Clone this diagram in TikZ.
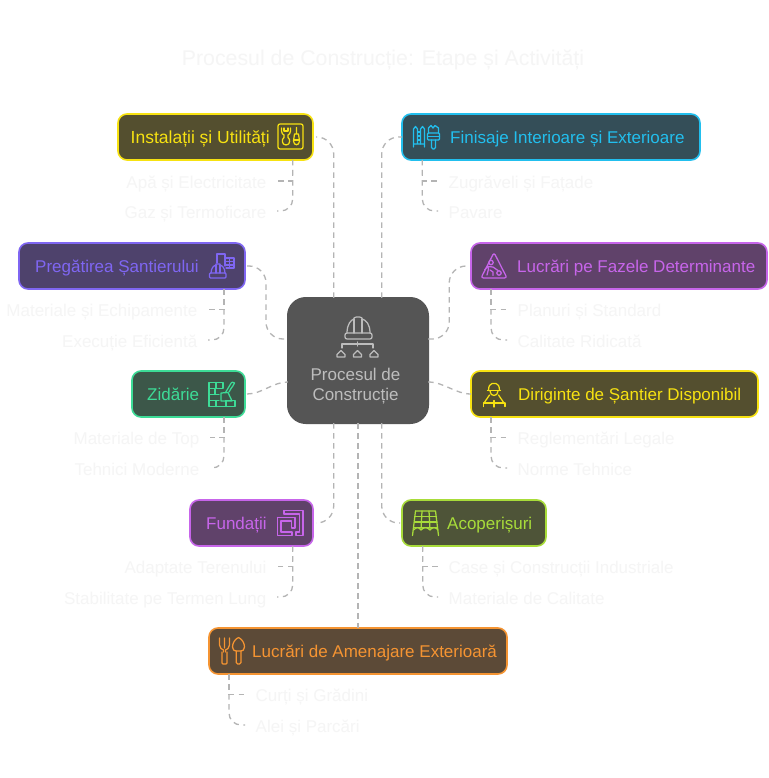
\documentclass[tikz,border=0pt]{standalone}
\usepackage{fontspec}
\setmainfont{Liberation Sans}
\definecolor{cyel}{HTML}{F7E211}
\definecolor{fyel}{HTML}{544F2F}
\definecolor{ccya}{HTML}{22BFEE}
\definecolor{fcya}{HTML}{344E58}
\definecolor{cvio}{HTML}{7F66F2}
\definecolor{fvio}{HTML}{4E426C}
\definecolor{cmag}{HTML}{C765EA}
\definecolor{fmag}{HTML}{60426A}
\definecolor{cgre}{HTML}{3DDC97}
\definecolor{fgre}{HTML}{3C5749}
\definecolor{clim}{HTML}{A8DC3A}
\definecolor{flim}{HTML}{4E5438}
\definecolor{cora}{HTML}{F59432}
\definecolor{fora}{HTML}{5C4A37}
\definecolor{fcen}{HTML}{555555}
\definecolor{tcen}{HTML}{BDBDBD}
\definecolor{clin}{HTML}{B4B4B4}
\definecolor{tlig}{HTML}{F5F5F5}
\tikzset{
  x=1pt,y=-1pt,
  boxnode/.style n args={4}{draw=#1,fill=#2,line width=1.6pt,rounded corners=9pt,minimum width=#3,minimum height=#4,inner sep=0pt,outer sep=0pt},
  boxtext/.style={anchor=west,inner sep=0pt,text height=13pt,text depth=4pt,font=\fontsize{17}{20}\selectfont},
  sub/.style={text=tlig,inner sep=0pt,inner xsep=10.5pt,text height=13pt,text depth=4pt,font=\fontsize{17}{20}\selectfont},
  subl/.style={sub,anchor=east},
  subr/.style={sub,anchor=west},
  conn/.style={draw=clin,line width=1.3pt,dash pattern=on 5.5pt off 4.5pt,rounded corners=#1},
  conn/.default=12pt,
  ic/.style={draw=#1,line width=1.25pt,line cap=round,line join=round},
}
\begin{document}
\begin{tikzpicture}
\useasboundingbox (0,0) rectangle (768,778);
\fill[white] (0,0) rectangle (768,778);
\node[text=tlig,font=\fontsize{21.3}{26}\selectfont,inner sep=0pt] (title) at (383,60) {Procesul de Construcție: Etape și Activități};

% boxes
\node[boxnode={fcen}{fcen}{140.4pt}{125.4pt},rounded corners=18pt] (cen) at (358,360.5) {};
\node[boxnode={cyel}{fyel}{195pt}{46pt}] (instal) at (215.5,137) {};
\node[boxnode={ccya}{fcya}{298pt}{46pt}] (finis) at (551,137) {};
\node[boxnode={cvio}{fvio}{226pt}{46pt}] (preg) at (132,266) {};
\node[boxnode={cmag}{fmag}{296pt}{46pt}] (lucr) at (619,266) {};
\node[boxnode={cgre}{fgre}{113pt}{46pt}] (zid) at (188.5,394) {};
\node[boxnode={cyel}{fyel}{287pt}{46pt}] (dirig) at (614.5,394) {};
\node[boxnode={cmag}{fmag}{123pt}{46pt}] (fund) at (251.5,523) {};
\node[boxnode={clim}{flim}{144pt}{46pt}] (acop) at (474,523) {};
\node[boxnode={cora}{fora}{298pt}{46pt}] (amen) at (358,651) {};

% box texts
\node[boxtext,text=cyel,font=\fontsize{17.5}{20}\selectfont] (tinstal) at (130.5,139) {Instalații și Utilități};
\node[boxtext,text=ccya] (tfinis) at (450,139) {Finisaje Interioare și Exterioare};
\node[boxtext,text=cvio] (tpreg) at (35,268) {Pregătirea Șantierului};
\node[boxtext,text=cmag] (tlucr) at (517,268) {Lucrări pe Fazele Determinante};
\node[boxtext,text=cgre] (tzid) at (147,396) {Zidărie};
\node[boxtext,text=cyel] (tdirig) at (518,396) {Diriginte de Șantier Disponibil};
\node[boxtext,text=cmag] (tfund) at (206,525) {Fundații};
\node[boxtext,text=clim] (tacop) at (447,525) {Acoperișuri};
\node[boxtext,text=cora] (tamen) at (252,653) {Lucrări de Amenajare Exterioară};
\node[text=tcen,align=center,inner sep=0pt,font=\fontsize{17}{20.5}\selectfont] (tcen) at (355.5,386) {Procesul de\\Construcție};

% sub labels
\node[subl] (a1) at (277,183.5) {Apă și Electricitate};
\node[subl] (a2) at (277,213.5) {Gaz și Termoficare};
\node[subr] (b1) at (438,183.5) {Zugrăveli și Fațade};
\node[subr] (b2) at (438,213.5) {Pavare};
\node[subl] (c1) at (208,312) {Materiale și Echipamente};
\node[subl] (c2) at (208,342.5) {Execuție Eficientă};
\node[subr] (d1) at (507,312) {Planuri și Standard};
\node[subr] (d2) at (507,342.5) {Calitate Ridicată};
\node[subl] (e1) at (210,440) {Materiale de Top};
\node[subl] (e2) at (210,470.5) {Tehnici Moderne};
\node[subr] (f1) at (507,440) {Reglementări Legale};
\node[subr] (f2) at (507,470.5) {Norme Tehnice};
\node[subl] (g1) at (277,569) {Adaptate Terenului};
\node[subl] (g2) at (277,599.5) {Stabilitate pe Termen Lung};
\node[subr] (h1) at (438,569) {Case și Construcții Industriale};
\node[subr] (h2) at (438,599.5) {Materiale de Calitate};
\node[subr] (i1) at (245,697) {Curți și Grădini};
\node[subr] (i2) at (245,727.5) {Alei și Parcări};

% main connectors
\draw[conn=17pt] ([xshift=-24.3pt]cen.north) |- ([xshift=3pt]instal.east);
\draw[conn=17pt] ([xshift=23.7pt]cen.north) |- (finis.west);
\draw[conn=17pt] ([xshift=2pt]preg.east) -- ++(19,0) |- ([yshift=21.5pt]cen.west);
\draw[conn=17pt] ([yshift=21.5pt]cen.east) -- ++(21,0) |- ([xshift=-2pt]lucr.west);
\draw[conn] ([xshift=2pt]zid.east) to[out=0,in=180,looseness=.9] ([yshift=-21.5pt]cen.west);
\draw[conn] ([yshift=-21.5pt]cen.east) to[out=0,in=180,looseness=.9] (dirig.west);
\draw[conn=17pt] ([xshift=-24.3pt]cen.south) |- ([xshift=3pt]fund.east);
\draw[conn=17pt] ([xshift=23.7pt]cen.south) |- ([xshift=-2pt]acop.west);
\draw[conn] (cen.south) -- (amen.north);

% sub connectors
\draw[conn=0pt] ([xshift=77.2pt]instal.south) |- ([yshift=2.5pt]a1.east);
\draw[conn] ([xshift=77.2pt]instal.south) |- ([yshift=2.5pt]a2.east);
\draw[conn=0pt] ([xshift=-128.7pt]finis.south) |- ([yshift=2.5pt]b1.west);
\draw[conn] ([xshift=-128.7pt]finis.south) |- ([yshift=2.5pt]b2.west);
\draw[conn=0pt] ([xshift=92pt]preg.south) |- ([yshift=2.5pt]c1.east);
\draw[conn] ([xshift=92pt]preg.south) |- ([yshift=2.5pt]c2.east);
\draw[conn=0pt] ([xshift=-128pt]lucr.south) |- ([yshift=2.5pt]d1.west);
\draw[conn] ([xshift=-128pt]lucr.south) |- ([yshift=2.5pt]d2.west);
\draw[conn=0pt] ([xshift=35.5pt]zid.south) |- ([yshift=2.5pt]e1.east);
\draw[conn] ([xshift=35.5pt]zid.south) |- ([yshift=2.5pt]e2.east);
\draw[conn=0pt] ([xshift=-123.5pt]dirig.south) |- ([yshift=2.5pt]f1.west);
\draw[conn] ([xshift=-123.5pt]dirig.south) |- ([yshift=2.5pt]f2.west);
\draw[conn=0pt] ([xshift=41.2pt]fund.south) |- ([yshift=2.5pt]g1.east);
\draw[conn] ([xshift=41.2pt]fund.south) |- ([yshift=2.5pt]g2.east);
\draw[conn=0pt] ([xshift=-51.3pt]acop.south) |- ([yshift=2.5pt]h1.west);
\draw[conn] ([xshift=-51.3pt]acop.south) |- ([yshift=2.5pt]h2.west);
\draw[conn=0pt] ([xshift=-129pt]amen.south) |- ([yshift=2.5pt]i1.west);
\draw[conn] ([xshift=-129pt]amen.south) |- ([yshift=2.5pt]i2.west);

% centre icon
\begin{scope}[ic=tcen]
\draw (347,333) .. controls (347,324) and (351,320) .. (354,319) -- (354,318) .. controls (356,316.5) and (360,316.5) .. (362,318) -- (362,319) .. controls (366,320) and (370,324) .. (370,333);
\draw (354,319) -- (354,333) (362,319) -- (362,333);
\draw[rounded corners=2pt] (345,333) rectangle (372,339);
\draw (357.5,342) -- (357.5,346) (342,348) -- (342,344) -- (373,344) -- (373,348);
\foreach \cx in {341,357.5,374}{
  \draw (\cx-4,357) -- (\cx-4,354.5) -- (\cx,350.5) -- (\cx+4,354.5) -- (\cx+4,357) -- cycle;
}
\end{scope}

% instal icon
\begin{scope}[ic=cyel]
\draw[rounded corners=2pt] (278,124) rectangle (303,149);
\draw (281.5,128) -- (281.5,131) .. controls (281.5,133.5) and (283,134.5) .. (284,135) -- (284,137.5) .. controls (281.5,139) and (281.5,145) .. (286,145) .. controls (290.5,145) and (290.5,139) .. (288,137.5) -- (288,135) .. controls (289,134.5) and (290.5,133.5) .. (290.5,131) -- (290.5,128);
\draw (284,128) -- (284,131) -- (288,131) -- (288,128);
\draw (296.5,127.5) -- (296.5,134) (294.5,134) -- (298.5,134) -- (299.5,141) .. controls (299.5,146) and (293.5,146) .. (293.5,141) -- (294.5,134);
\draw (293.5,140) -- (299.5,140);
\end{scope}

% finis icon
\begin{scope}[ic=ccya]
\draw (413.5,147) -- (413.5,129) -- (415.5,126.5) -- (417.5,129) -- (417.5,144) (413.5,144) -- (424,144);
\draw (420.5,144) -- (420.5,129) -- (422.5,126.5) -- (424.5,129) -- (424.5,147);
\draw (417.5,132) -- (420.5,132) (417.5,136) -- (420.5,136) (417.5,140) -- (420.5,140);
\draw (428.5,133) -- (428.5,128) -- (431,125.5) -- (433,128) -- (435,125.5) -- (438.5,128) -- (438.5,133);
\draw[rounded corners=1pt] (427.5,133) rectangle (439.5,140);
\draw[rounded corners=1.5pt] (431.5,140) -- (431.5,149) -- (435.5,149) -- (435.5,140);
\draw (427.5,136.5) -- (439.5,136.5);
\end{scope}

% preg icon
\begin{scope}[ic=cvio]
\draw (217,263) -- (217,254) -- (225,254) -- (225,266);
\draw (225,258) -- (234,258) -- (234,268) -- (226,268);
\draw (225,261.5) -- (234,261.5) (225,265) -- (234,265) (229.5,258) -- (229.5,268);
\draw (211,273) .. controls (211,268) and (214,265.5) .. (216,265) -- (216,264) -- (220,264) -- (220,265) .. controls (222,265.5) and (225,268) .. (225,273);
\draw (216,265) -- (216,273) (220,265) -- (220,273);
\draw[rounded corners=1pt] (209.5,273) rectangle (226,278);
\end{scope}

% lucr icon
\begin{scope}[ic=cmag]
\draw[rounded corners=2.5pt] (494,252.5) -- (507,278) -- (481,278) -- cycle;
\draw (491,262.5) circle (2.2);
\draw (487,275) -- (488.5,269) -- (487.5,266.5) -- (493,267) -- (498,270.5);
\draw (490,270) -- (493,272) -- (493,275.5);
\draw (484.5,270) -- (487.5,266.5);
\draw (499,273) circle (2.2);
\end{scope}

% dirig icon
\begin{scope}[ic=cyel]
\draw (487.5,390.5) -- (500.5,390.5);
\draw (488.5,390.5) .. controls (488.5,386) and (490,384) .. (492,383.5) -- (496,383.5) .. controls (498,384) and (499.5,386) .. (499.5,390.5);
\draw (490,391) .. controls (490,397) and (498,397) .. (498,391);
\draw (489.5,395) -- (484,403) (498.5,395) -- (504,403);
\draw (483.5,403) -- (505,403) (494,400.5) -- (494,407) (483.5,403) -- (483.5,406.5) (505,403) -- (505,406.5);
\end{scope}

% zid icon
\begin{scope}[ic=cgre]
\draw (223,388) -- (223,382.5) -- (209,382.5) -- (209,406.5) -- (235,406.5) -- (235,400.5) -- (226,400.5);
\draw (209,388.5) -- (223,388.5) (209,394.5) -- (219,394.5) (209,400.5) -- (219,400.5) (216,382.5) -- (216,388.5) (215,388.5) -- (215,394.5) (216,400.5) -- (216,406.5) (226,400.5) -- (226,406.5);
\draw (221,393) -- (228,392.5) -- (232,401) -- (221,401) -- cycle;
\draw (225.5,392.5) -- (230,385) .. controls (231,382) and (234,381) .. (234.5,383) .. controls (234.5,385) and (232,386) .. (229,392);
\end{scope}

% fund icon
\begin{scope}[ic=cmag]
\draw (284,510.5) -- (303,510.5) -- (303,535.5) -- (296,535.5) -- (296,532) -- (299.5,532) -- (299.5,514) -- (284,514);
\draw (284,510.5) -- (284,514);
\draw (277.5,517.5) -- (295,517.5) -- (295,528) -- (292,528);
\draw (277.5,517.5) -- (277.5,535.5) -- (292,535.5) -- (292,532) -- (281,532) -- (281,521) -- (291.5,521) -- (291.5,528);
\end{scope}

% acop icon
\begin{scope}[ic=clim]
\draw (415.5,511) -- (435.5,511) -- (438.5,535.5);
\draw (415.5,511) -- (412.5,535.5);
\draw (422,511) -- (421,530) (429,511) -- (430,530);
\draw (415,516.5) -- (436.5,516.5) (414.5,522) -- (437,522);
\draw (413.5,530) .. controls (416,527) and (419,527) .. (421,530) .. controls (423,527) and (428,527) .. (430,530) .. controls (432,527) and (436,527) .. (438,530);
\draw (414,527.5) -- (437.5,527.5);
\end{scope}

% amen icon
\begin{scope}[ic=cora]
\draw (219.5,638) -- (219.5,645) .. controls (219.5,648) and (222,649.5) .. (223.5,650) -- (223.5,652);
\draw (224.5,638) -- (224.5,648) (229.5,638) -- (229.5,645) .. controls (229.5,648) and (227,649.5) .. (225.5,650) -- (225.5,652);
\draw[rounded corners=1pt] (222,652) -- (222,664) -- (227,664) -- (227,652);
\draw (238.5,637.5) .. controls (242,639) and (244.5,643) .. (244.5,647) .. controls (244.5,650) and (242.5,651) .. (241,651) -- (236,651) .. controls (234.5,651) and (232.5,650) .. (232.5,647) .. controls (232.5,643) and (235,639) .. (238.5,637.5);
\draw[rounded corners=1.5pt] (236.2,651) -- (236.2,664) -- (241,664) -- (241,651);
\end{scope}
\end{tikzpicture}
\end{document}
